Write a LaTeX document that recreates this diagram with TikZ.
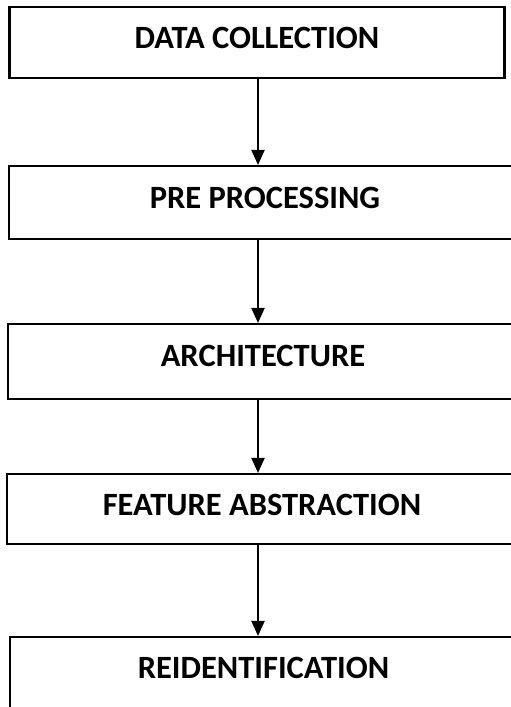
\documentclass[tikz,border=0pt]{standalone}
\usepackage{fontspec}
\setmainfont{Carlito}
\usetikzlibrary{arrows.meta,calc}
\tikzset{
  boxst/.style={draw=black, line width=2.1pt, fill=white, inner sep=0pt, rectangle},
  txt/.style={font=\bfseries\fontsize{32.5}{38}\selectfont, inner sep=0pt, anchor=base},
  arr/.style={line width=2pt, -{Triangle[width=13pt,length=15pt]}}
}
\begin{document}
\begin{tikzpicture}[x=1pt,y=1pt]
\useasboundingbox (0,0) rectangle (511,-707);
\clip (0,0) rectangle (511,-707);
\fill[white] (0,0) rectangle (511,-707);
% boxes
\node[boxst, minimum width=495pt, minimum height=71pt] (b1) at (257,-42.5) {};
\node[boxst, minimum width=540pt, minimum height=73pt] (b2) at (279,-202.5) {};
\node[boxst, minimum width=540pt, minimum height=75pt] (b3) at (278,-361.5) {};
\node[boxst, minimum width=540pt, minimum height=70pt] (b4) at (277,-509) {};
\node[boxst, minimum width=540pt, minimum height=130pt] (b5) at (280,-702) {};
% texts
\node[txt] (t1) at (257,-48) {DATA COLLECTION};
\node[txt] (t2) at (265,-208) {PRE PROCESSING};
\node[txt] (t3) at (263,-366) {ARCHITECTURE};
\node[txt] (t4) at (262,-515) {FEATURE ABSTRACTION};
\node[txt] (t5) at (263.5,-678) {REIDENTIFICATION};
% arrows
\coordinate (a1) at ($(b1.south)+(1,0)$);
\draw[arr] (a1) -- (a1 |- b2.north);
\draw[arr] (a1 |- b2.south) -- (a1 |- b3.north);
\draw[arr] (a1 |- b3.south) -- (a1 |- b4.north);
\draw[arr] (a1 |- b4.south) -- (a1 |- b5.north);
\end{tikzpicture}
\end{document}
